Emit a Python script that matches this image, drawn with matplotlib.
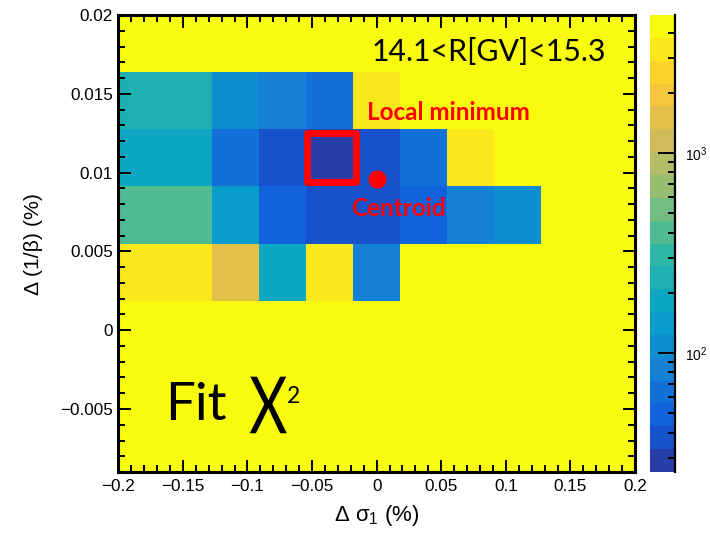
import numpy as np
import matplotlib
matplotlib.use("Agg")
import matplotlib.pyplot as plt
import matplotlib.transforms as mtransforms
from matplotlib.colors import LinearSegmentedColormap, ListedColormap, LogNorm
from matplotlib.patches import Rectangle, PathPatch
from matplotlib.textpath import TextPath
from matplotlib.font_manager import FontProperties
from matplotlib.ticker import MultipleLocator, LogLocator, FuncFormatter

plt.rcParams['font.family'] = ['Liberation Sans', 'DejaVu Sans']
plt.rcParams['mathtext.fontset'] = 'custom'
plt.rcParams['mathtext.rm'] = 'Liberation Sans'
plt.rcParams['mathtext.it'] = 'Liberation Sans:italic'

# scan binning
sigma_edges = np.linspace(-0.2, 0.2, 12)    # delta sigma_1 (%)
beta_edges = np.linspace(-0.009, 0.02, 9)   # delta 1/beta (%)

# chi2 per bin, rows from top (1/beta = 0.02) to bottom
row_0 = [4900, 4900, 4900, 4900, 4900, 4900, 4900, 4900, 4900, 4900, 4900]
row_1 = [238, 238, 108, 83, 64, 3300, 4900, 4900, 4900, 4900, 4900]
row_2 = [175, 175, 64, 38, 25.4, 38, 64, 3300, 4900, 4900, 4900]
row_3 = [403, 403, 141, 49, 38, 38, 49, 83, 108, 4900, 4900]
row_4 = [3300, 3300, 1500, 183, 3300, 83, 4900, 4900, 4900, 4900, 4900]
row_5 = [4900, 4900, 4900, 4900, 4900, 4900, 4900, 4900, 4900, 4900, 4900]
row_6 = [4900, 4900, 4900, 4900, 4900, 4900, 4900, 4900, 4900, 4900, 4900]
row_7 = [4900, 4900, 4900, 4900, 4900, 4900, 4900, 4900, 4900, 4900, 4900]

centroid_sigma = 0.0
centroid_beta = 0.0096

rigidity_bin = "14.1<R[GV]<15.3"

chi2 = np.array([row_0, row_1, row_2, row_3, row_4, row_5, row_6, row_7])[::-1]

# ROOT kBird palette, 20 contour levels
stops = [0.0, 0.125, 0.25, 0.375, 0.5, 0.625, 0.75, 0.875, 1.0]
red = [0.2082, 0.0592, 0.0780, 0.0232, 0.1802, 0.5301, 0.8186, 0.9956, 0.9764]
green = [0.1664, 0.3599, 0.5041, 0.6419, 0.7178, 0.7492, 0.7328, 0.7862, 0.9832]
blue = [0.5293, 0.8684, 0.8385, 0.7914, 0.6425, 0.4662, 0.3499, 0.1968, 0.0539]
bird = LinearSegmentedColormap.from_list(
    "bird", [(s, (r, g, b)) for s, r, g, b in zip(stops, red, green, blue)], N=255)
ncont = 20
idx = [min(int((i + 0.99) * 255 / ncont), 254) for i in range(ncont)]
contours = ListedColormap([bird(k / 254) for k in idx])


def root_fmt(v, pos):
    return ('%g' % round(v, 6)).replace('-', '\u2212')


fig = plt.figure(figsize=(7.1, 5.33), dpi=100)
ax = fig.add_axes([0.1666, 0.1144, 0.7278, 0.8574])
cax = fig.add_axes([0.9155, 0.1144, 0.0352, 0.8574])

mesh = ax.pcolormesh(sigma_edges, beta_edges, chi2, cmap=contours,
                     norm=LogNorm(vmin=chi2.min(), vmax=chi2.max()))

ax.set_xlim(-0.2, 0.2)
ax.set_ylim(-0.009, 0.02)
ax.xaxis.set_major_locator(MultipleLocator(0.05))
ax.xaxis.set_minor_locator(MultipleLocator(0.01))
ax.yaxis.set_major_locator(MultipleLocator(0.005))
ax.yaxis.set_minor_locator(MultipleLocator(0.001))
ax.xaxis.set_major_formatter(FuncFormatter(root_fmt))
ax.yaxis.set_major_formatter(FuncFormatter(root_fmt))
ax.tick_params(which='both', direction='in', top=True, right=True, width=1.4,
               labelsize=12.3, color='black')
ax.tick_params(which='major', length=9)
ax.tick_params(which='minor', length=4.7)
ax.tick_params(axis='x', pad=5)
ax.tick_params(axis='y', pad=4)
for sp in ax.spines.values():
    sp.set_linewidth(2.2)

ax.set_xlabel(r"Δ σ$_{1}$ (%)", fontsize=16)
ax.set_ylabel("Δ (1/β) (%)", fontsize=15.3)
ax.xaxis.set_label_coords(0.5, -0.068)
ax.yaxis.set_label_coords(-0.146, 0.5)

# box around the bin with the lowest chi2
iy, ix = np.unravel_index(np.argmin(chi2), chi2.shape)
cx = 0.5 * (sigma_edges[ix] + sigma_edges[ix + 1])
cy = 0.5 * (beta_edges[iy] + beta_edges[iy + 1])
bw, bh = 0.0385, 0.0031
ax.add_patch(Rectangle((cx - bw / 2 + 0.0015, cy - bh / 2), bw, bh, fill=False,
                       edgecolor='#ff0000', linewidth=5, joinstyle='round'))
ax.plot(centroid_sigma, centroid_beta, 'o', ms=13, color='#ff0000', mec='none')

ax.text(-0.0077, 0.01334, "Local minimum", color='#ff0000', fontsize=17.5,
        fontweight='bold', family='Lato', ha='left', va='baseline')
ax.text(-0.0201, 0.00725, "Centroid", color='#ff0000', fontsize=17.5,
        fontweight='bold', family='Lato', ha='left', va='baseline')
ax.text(-0.0038, 0.01708, rigidity_bin, color='black', fontsize=21.8,
        family='Lato', ha='left', va='baseline')
ax.text(-0.1638, -0.0057, "Fit", color='black', fontsize=38,
        family='Lato', ha='left', va='baseline')
ax.text(-0.0696, -0.00462, "2", color='black', fontsize=16.4,
        family='Lato', ha='left', va='baseline')

# tall narrow chi glyph, sized in pixels and anchored at its bottom centre
chi_path = TextPath((0, 0), "Χ", size=100, prop=FontProperties(family='Lato'))
ext = chi_path.get_extents()
chi_w, chi_h = 37.0, 56.6
chi_tr = (mtransforms.Affine2D()
          .translate(-ext.x0 - ext.width / 2, -ext.y0)
          .scale(chi_w / ext.width, chi_h / ext.height)
          + mtransforms.ScaledTranslation(-0.0839, -0.00654, ax.transData))
ax.add_artist(PathPatch(chi_path, transform=chi_tr, facecolor='black',
                        edgecolor='none', clip_on=False))

cb = fig.colorbar(mesh, cax=cax)
cb.outline.set_visible(False)
cax.plot([1, 1], [0, 1], transform=cax.transAxes, color='black', lw=1.6,
         clip_on=False)
cax.yaxis.set_major_locator(LogLocator(base=10))
cax.yaxis.set_minor_locator(LogLocator(base=10, subs=np.arange(2, 10)))
cax.tick_params(which='both', direction='in', right=True, left=False,
                width=1.4, color='black', labelsize=10, pad=7)
cax.tick_params(which='major', length=12)
cax.tick_params(which='minor', length=5)
cax.yaxis.set_minor_formatter(plt.NullFormatter())

fig.savefig("out.png", dpi=100)
